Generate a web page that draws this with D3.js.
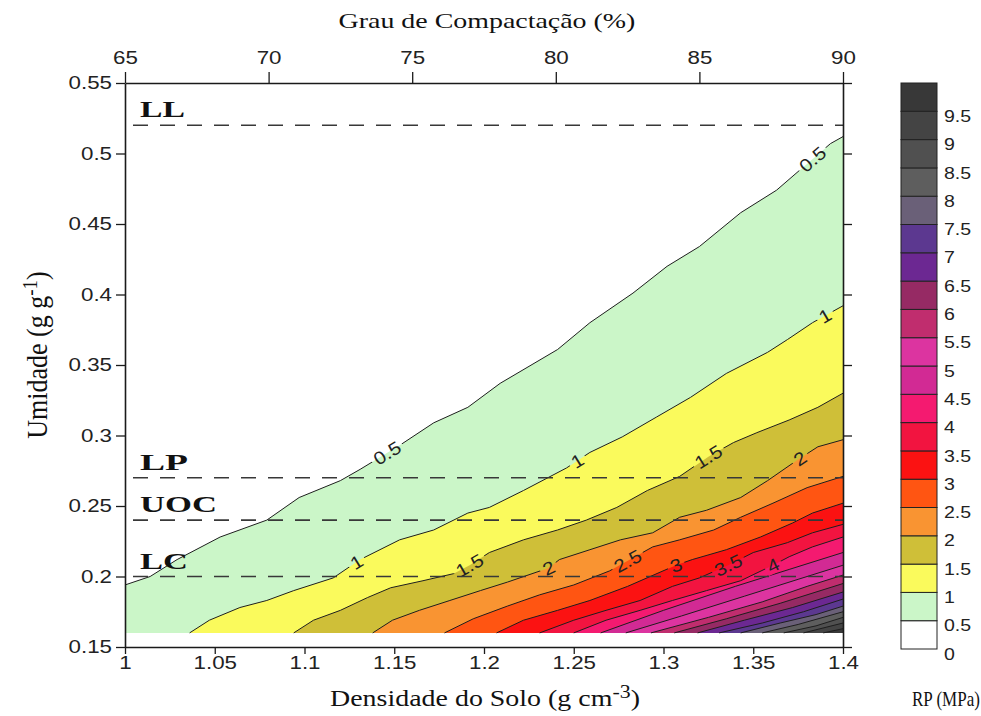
<!DOCTYPE html>
<html><head><meta charset="utf-8">
<script src="https://cdn.jsdelivr.net/npm/d3@7"></script>
<style>body{margin:0;background:#fff} svg{display:block}</style>
</head><body>
<svg id="c" width="981" height="716"></svg>
<script>
// ---------- DATA ----------
// contour levels of RP (MPa)
const levels = [0.5,1,1.5,2,2.5,3,3.5,4,4.5,5,5.5,6,6.5,7,7.5,8,8.5,9,9.5];
// contour lines: [density (g cm-3), moisture (g g-1)]
const contour05 = [[1.000,0.194],[1.014,0.200],[1.029,0.212],[1.053,0.228],[1.079,0.240],[1.097,0.256],[1.120,0.268],[1.131,0.276],[1.153,0.293],[1.172,0.309],[1.191,0.320],[1.209,0.337],[1.241,0.361],[1.259,0.380],[1.283,0.401],[1.302,0.420],[1.320,0.434],[1.343,0.458],[1.363,0.474],[1.393,0.507],[1.400,0.512]];
const contour10 = [[1.036,0.160],[1.047,0.169],[1.064,0.178],[1.079,0.183],[1.094,0.190],[1.116,0.199],[1.131,0.212],[1.153,0.226],[1.172,0.233],[1.191,0.245],[1.203,0.249],[1.222,0.261],[1.246,0.277],[1.259,0.288],[1.277,0.299],[1.296,0.313],[1.315,0.327],[1.335,0.344],[1.358,0.359],[1.369,0.368],[1.383,0.380],[1.400,0.392]];
const contour15 = [[1.094,0.160],[1.105,0.169],[1.120,0.176],[1.135,0.185],[1.148,0.192],[1.166,0.197],[1.183,0.202],[1.192,0.208],[1.203,0.217],[1.222,0.226],[1.241,0.233],[1.257,0.240],[1.274,0.249],[1.291,0.261],[1.309,0.271],[1.325,0.285],[1.339,0.295],[1.352,0.302],[1.370,0.311],[1.386,0.320],[1.400,0.330]];
const contour20 = [[1.138,0.160],[1.149,0.169],[1.164,0.176],[1.181,0.183],[1.198,0.190],[1.213,0.196],[1.236,0.206],[1.242,0.212],[1.259,0.219],[1.276,0.226],[1.294,0.231],[1.309,0.242],[1.324,0.247],[1.343,0.256],[1.358,0.268],[1.375,0.283],[1.386,0.292],[1.400,0.297]];
const contour25 = [[1.178,0.160],[1.194,0.170],[1.213,0.179],[1.231,0.187],[1.250,0.194],[1.270,0.204],[1.294,0.221],[1.309,0.226],[1.328,0.233],[1.343,0.242],[1.361,0.252],[1.380,0.263],[1.400,0.271]];
const contour30 = [[1.207,0.160],[1.222,0.169],[1.241,0.176],[1.259,0.183],[1.280,0.193],[1.307,0.208],[1.316,0.212],[1.335,0.219],[1.354,0.228],[1.372,0.238],[1.383,0.245],[1.400,0.252]];
const contour35 = [[1.231,0.160],[1.250,0.169],[1.268,0.176],[1.287,0.183],[1.305,0.193],[1.320,0.199],[1.336,0.208],[1.350,0.217],[1.369,0.224],[1.383,0.231],[1.400,0.237]];
const contour40 = [[1.250,0.160],[1.268,0.169],[1.287,0.176],[1.305,0.183],[1.324,0.190],[1.343,0.197],[1.361,0.208],[1.370,0.214],[1.383,0.221],[1.400,0.228]];
const contour45 = [[1.265,0.160],[1.300,0.176],[1.340,0.193],[1.370,0.205],[1.400,0.217]];
const contour50 = [[1.279,0.160],[1.310,0.172],[1.345,0.186],[1.375,0.198],[1.400,0.208]];
const contour55 = [[1.293,0.160],[1.325,0.171],[1.355,0.182],[1.380,0.193],[1.400,0.201]];
const contour60 = [[1.306,0.160],[1.335,0.170],[1.365,0.181],[1.400,0.195]];
const contour65 = [[1.319,0.160],[1.345,0.169],[1.372,0.178],[1.400,0.189]];
const contour70 = [[1.331,0.160],[1.355,0.167],[1.378,0.175],[1.400,0.184]];
const contour75 = [[1.343,0.160],[1.365,0.167],[1.385,0.173],[1.400,0.179]];
const contour80 = [[1.355,0.160],[1.375,0.166],[1.400,0.175]];
const contour85 = [[1.367,0.160],[1.385,0.165],[1.400,0.171]];
const contour90 = [[1.378,0.160],[1.400,0.167]];
const contour95 = [[1.389,0.160],[1.400,0.163]];
const contours = [contour05,contour10,contour15,contour20,contour25,contour30,contour35,contour40,contour45,contour50,contour55,contour60,contour65,contour70,contour75,contour80,contour85,contour90,contour95];

// contour labels: level and density where the label sits
const labelLevels    = [0.5,   0.5,   1,     1,     1,     1.5,   1.5,   2,     2,     2.5,   3,     3.5,   4];
const labelDensities = [1.146, 1.383, 1.129, 1.252, 1.390, 1.192, 1.325, 1.236, 1.376, 1.280, 1.307, 1.336, 1.361];

// reference moisture lines
const refValues = [0.52, 0.27, 0.24, 0.20];
const refNames  = ["LL", "LP", "UOC", "LC"];

// axes ticks
const xTicks  = [1,1.05,1.1,1.15,1.2,1.25,1.3,1.35,1.4];
const yTicks  = [0.15,0.2,0.25,0.3,0.35,0.4,0.45,0.5,0.55];
const gcTicks = [65,70,75,80,85,90];
const cbLevels = [0,0.5,1,1.5,2,2.5,3,3.5,4,4.5,5,5.5,6,6.5,7,7.5,8,8.5,9,9.5];
const minMoisture = 0.16;

// ---------- STYLE ----------
const bandColors = ["#ffffff","#cbf6c8","#fafa5c","#cfbf38","#f99432","#ff5512","#fb1212","#f21440","#f41a70",
  "#d22a94","#dc34a0","#c02d6e","#962a64","#6c2892","#5c3890","#6a6078","#5e5e5e","#505050","#444444","#383838"];
const SANS = "'Liberation Sans', Arial, sans-serif";
const SERIF = "'Liberation Serif', 'Times New Roman', serif";
const W = 981, H = 716;

const svg = d3.select("#c");
const x  = d3.scaleLinear().domain([1,1.4]).range([125,843]);
const y  = d3.scaleLinear().domain([0.15,0.55]).range([647,83]);
const gx = d3.scaleLinear().domain([65,90]).range([125,843]);
const yc = d3.scaleLinear().domain([0,10]).range([649,83]);
const bandColor = lv => bandColors[Math.round(lv*2)];

function stretch(sel, k){
  sel.each(function(){
    const L = this.getComputedTextLength();
    d3.select(this).attr("textLength", L*k).attr("lengthAdjust","spacingAndGlyphs");
  });
}
function fitText(t, x0, y0, anchor, w){
  t.attr("x",0).attr("y",0).attr("text-anchor",anchor);
  const bw = t.node().getBBox().width;
  t.attr("transform", `translate(${x0},${y0}) scale(${w/bw},1)`);
}

// ---------- FILLED BANDS ----------
const fills = svg.append("g");
levels.forEach((lv,i)=>{
  const c = contours[i];
  const pts = c.map(p=>[x(p[0]), y(p[1])]);
  pts.push([x(1.4), y(minMoisture)]);
  if (c[0][0] <= 1.0001) pts.push([x(1), y(minMoisture)]);
  fills.append("path").attr("d", d3.line()(pts)+"Z").attr("fill", bandColor(lv));
});

// ---------- CONTOUR LINES WITH LABEL GAPS ----------
const defs = svg.append("defs");
const mask = defs.append("mask").attr("id","lm").attr("maskUnits","userSpaceOnUse")
  .attr("x",0).attr("y",0).attr("width",W).attr("height",H);
mask.append("rect").attr("width",W).attr("height",H).attr("fill","#fff");

const linesG = svg.append("g").attr("mask","url(#lm)");
contours.forEach(c=>{
  linesG.append("path").attr("d", d3.line().x(p=>x(p[0])).y(p=>y(p[1]))(c))
    .attr("fill","none").attr("stroke","#1e1e1e").attr("stroke-width",1);
});

function interp(c, d){
  for (let j=0;j<c.length-1;j++){
    if (d>=c[j][0] && d<=c[j+1][0]){
      const t=(d-c[j][0])/(c[j+1][0]-c[j][0]);
      return c[j][1]+t*(c[j+1][1]-c[j][1]);
    }
  }
  return d<c[0][0]?c[0][1]:c[c.length-1][1];
}
const labG = svg.append("g");
labelLevels.forEach((lv,k)=>{
  const c = contours[levels.findIndex(l=>Math.abs(l-lv)<1e-9)];
  const d = labelDensities[k];
  const px = x(d), py = y(interp(c,d));
  const a1=[x(d-0.01), y(interp(c,d-0.01))], a2=[x(d+0.01), y(interp(c,d+0.01))];
  const ang = Math.atan2(a2[1]-a1[1], a2[0]-a1[0])*180/Math.PI;
  const tr = `translate(${px},${py}) rotate(${ang})`;
  const t = labG.append("text").attr("transform",tr).attr("text-anchor","middle").attr("dy","0.36em")
    .attr("font-family",SANS).attr("font-size",18).attr("fill","#222").text(String(lv));
  const L = t.node().getComputedTextLength()*1.15;
  t.attr("textLength",L).attr("lengthAdjust","spacingAndGlyphs");
  mask.append("rect").attr("transform",tr).attr("x",-L/2-3).attr("y",-8).attr("width",L+6).attr("height",16).attr("fill","#000");
});

// ---------- REFERENCE LINES ----------
const refG = svg.append("g");
const refWidths = [45, 48, 77, 48];
refValues.forEach((v,i)=>{
  refG.append("line").attr("x1",133).attr("x2",x(1.4)).attr("y1",y(v)).attr("y2",y(v))
    .attr("stroke","#383838").attr("stroke-width",1.6).attr("stroke-dasharray","15,12");
  const t = refG.append("text").attr("font-family",SERIF).attr("font-weight","bold").attr("font-size",24)
    .attr("fill","#111").text(refNames[i]);
  fitText(t, 140, y(v)-8, "start", refWidths[i]);
});

// ---------- AXES ----------
function styleAxis(g){
  g.attr("font-family",SANS).attr("font-size",18);
  g.select(".domain").attr("stroke","#1a1a1a").attr("stroke-width",1.6);
  g.selectAll(".tick line").attr("stroke","#1a1a1a").attr("stroke-width",1.3);
  g.selectAll(".tick text").attr("fill","#222");
  stretch(g.selectAll(".tick text"), 1.24);
}
const fmt = d3.format(".2~f");
svg.append("g").attr("transform",`translate(0,${y(0.15)})`)
  .call(d3.axisBottom(x).tickValues(xTicks).tickFormat(fmt).tickSize(7).tickPadding(2).tickSizeOuter(0)).call(styleAxis);
svg.append("g").attr("transform",`translate(${x(1)},0)`)
  .call(d3.axisLeft(y).tickValues(yTicks).tickFormat(fmt).tickSize(9).tickPadding(4).tickSizeOuter(0)).call(styleAxis);
svg.append("g").attr("transform",`translate(${x(1.4)},0)`)
  .call(d3.axisRight(y).tickValues(yTicks).tickFormat("").tickSize(9).tickSizeOuter(0)).call(styleAxis);
svg.append("g").attr("transform",`translate(0,${y(0.55)})`)
  .call(d3.axisTop(gx).tickValues(gcTicks).tickSize(11).tickPadding(8).tickSizeOuter(0)).call(styleAxis);

// ---------- TITLES ----------
const tTop = svg.append("text").attr("font-family",SERIF).attr("font-size",22).attr("fill","#111")
  .text("Grau de Compactação (%)");
fitText(tTop, 487, 28, "middle", 297);

const tBot = svg.append("text").attr("font-family",SERIF).attr("font-size",23).attr("fill","#111");
tBot.append("tspan").text("Densidade do Solo (g cm");
tBot.append("tspan").attr("dy",-8).attr("font-size",18).text("-3");
tBot.append("tspan").attr("dy",8).text(")");
fitText(tBot, 485, 706, "middle", 310);

const tY = svg.append("text").attr("font-family",SERIF).attr("font-size",26).attr("fill","#111")
  .attr("text-anchor","middle").attr("transform","translate(47,355) scale(1.1,1) rotate(-90)");
tY.append("tspan").text("Umidade (g g");
tY.append("tspan").attr("dy",-9).attr("font-size",19).text("-1");
tY.append("tspan").attr("dy",9).text(")");

const tRP = svg.append("text").attr("font-family",SERIF).attr("font-size",20).attr("fill","#111").text("RP (MPa)");
fitText(tRP, 912, 706, "start", 68);

// ---------- COLOR BAR ----------
const cb = svg.append("g");
cbLevels.forEach((lv,k)=>{
  cb.append("rect").attr("x",901).attr("width",36).attr("y",yc(lv+0.5)).attr("height",yc(lv)-yc(lv+0.5))
    .attr("fill",bandColors[k]).attr("stroke","#222").attr("stroke-width",1);
});
const cbl = cb.selectAll("text.cbl").data(cbLevels).enter().append("text").attr("class","cbl")
  .attr("x",944).attr("y",d=>yc(d)+5).attr("dy","0.35em").attr("font-family",SANS).attr("font-size",16)
  .attr("fill","#222").text(d=>String(d));
stretch(cbl, 1.22);
</script>
</body></html>
